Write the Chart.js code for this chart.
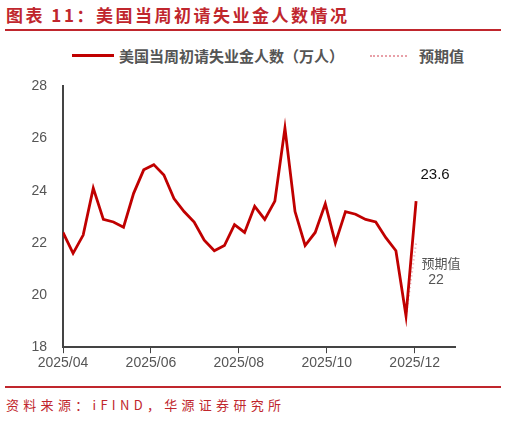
<!DOCTYPE html>
<html>
<head>
<meta charset="utf-8">
<script src="https://cdn.jsdelivr.net/npm/chart.js@4"></script>
<style>
  body { margin: 0; width: 506px; height: 421px; background: #fff; position: relative; font-family: "Noto Sans CJK SC", sans-serif; overflow: hidden; }
  .title { position: absolute; left: 6px; top: 2px; font-size: 17px; color: #c0262d; font-weight: bold; letter-spacing: 2.5px; }
  .rule { position: absolute; left: 5px; width: 496px; height: 2px; background: #c0262d; }
  .src { position: absolute; left: 6px; top: 395px; font-size: 13px; color: #c0262d; letter-spacing: 4.3px; }
  .legend { position: absolute; top: 45px; left: 72px; font-size: 15px; font-weight: bold; color: #555; display: flex; align-items: center; }
  .legend .ln { display: inline-block; width: 42px; height: 0; border-top: 3px solid #c00000; margin-right: 5px; }
  .legend .dt { display: inline-block; width: 37px; height: 0; border-top: 2px dotted #e8a0a8; margin: 0 12px 0 26px; }
  #wrap { position: absolute; left: 0; top: 70px; width: 506px; height: 304px; }
</style>
</head>
<body>
<div class="title">图表 11：美国当周初请失业金人数情况</div>
<div class="rule" style="top:29px"></div>
<div class="legend"><span class="ln"></span>美国当周初请失业金人数（万人）<span class="dt"></span>预期值</div>
<div id="wrap"><canvas id="c"></canvas></div>
<div class="rule" style="top:386px"></div>
<div class="src">资料来源：iFIND，华源证券研究所</div>
<script>
// days since 2025-04-01, weekly
const claims = [22.4, 21.6, 22.3, 24.1, 22.9, 22.8, 22.6, 23.9, 24.8, 25.0, 24.6, 23.7,
  23.2, 22.8, 22.1, 21.7, 21.9, 22.7, 22.4, 23.4, 22.9, 23.6, 26.4, 23.2,
  21.9, 22.4, 23.5, 22.0, 23.2, 23.1, 22.9, 22.8, 22.2, 21.7, 19.2, 23.6];
const days = claims.map((_, i) => i * 7);
const forecast = [19.2, 22.0];
const forecastDays = [238, 245];
const tickDays = [0, 61, 122, 183, 244];
const tickLabels = ["2025/04", "2025/06", "2025/08", "2025/10", "2025/12"];
const yTicks = [18, 20, 22, 24, 26, 28];

const labelsPlugin = {
  id: "notes",
  afterDatasetsDraw(chart) {
    const { ctx, scales: { x, y } } = chart;
    const last = claims.length - 1;
    const px = x.getPixelForValue(days[last]);
    ctx.save();
    ctx.textAlign = "center";
    ctx.textBaseline = "middle";
    ctx.font = "15px Arial, 'Liberation Sans'";
    ctx.fillStyle = "#111";
    ctx.fillText(claims[last].toFixed(1), px + 19, y.getPixelForValue(claims[last]) - 26);
    ctx.font = "13px 'Noto Sans CJK SC'";
    ctx.fillStyle = "#555";
    ctx.fillText("预期值", px + 25, y.getPixelForValue(forecast[1]) + 20);
    ctx.font = "14px Arial, 'Liberation Sans'";
    ctx.fillText(String(forecast[1]), px + 20, y.getPixelForValue(forecast[1]) + 37);
    ctx.restore();
  }
};

new Chart(document.getElementById("c"), {
  type: "line",
  data: {
    datasets: [
      { data: days.map((d, i) => ({ x: d, y: claims[i] })), borderColor: "#c00000", borderWidth: 2.8, pointRadius: 0, tension: 0 },
      { data: forecastDays.map((d, i) => ({ x: d, y: forecast[i] })),
        borderColor: "#e8a0a8", borderWidth: 2, borderDash: [1, 3], pointRadius: 0 }
    ]
  },
  options: {
    responsive: true,
    maintainAspectRatio: false,
    animation: false,
    layout: { padding: { top: 2, right: 51, left: 0, bottom: 0 } },
    plugins: { legend: { display: false }, tooltip: { enabled: false } },
    scales: {
      x: {
        type: "linear", min: 0, max: 272,
        afterBuildTicks: s => { s.ticks = tickDays.map(v => ({ value: v })); },
        ticks: { callback: (v) => tickLabels[tickDays.indexOf(v)] ?? "", color: "#555", font: { size: 14, family: "Arial, 'Liberation Sans'" }, maxRotation: 0, padding: 2 },
        grid: { display: true, drawOnChartArea: false, drawTicks: true, tickLength: 6, color: "#444", lineWidth: 1 },
        border: { color: "#444", width: 2 }
      },
      y: {
        min: 18, max: 28,
        afterBuildTicks: s => { s.ticks = yTicks.map(v => ({ value: v })); },
        afterFit: s => { s.width = 63; },
        ticks: { color: "#555", font: { size: 14, family: "Arial, 'Liberation Sans'" }, padding: 8 },
        grid: { display: false },
        border: { color: "#444", width: 2 }
      }
    }
  },
  plugins: [labelsPlugin]
});
</script>
</body>
</html>
